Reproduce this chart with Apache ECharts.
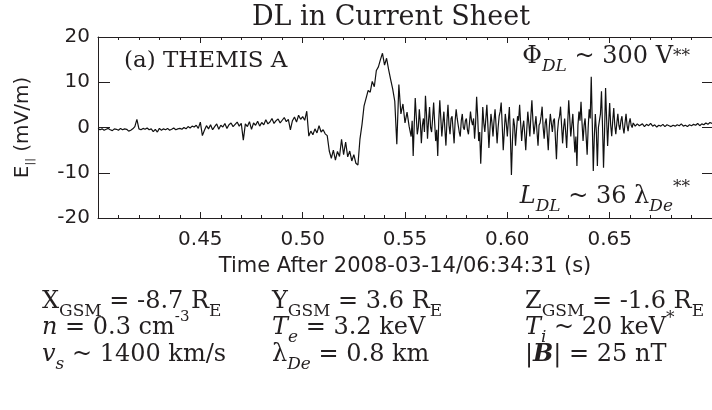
<!DOCTYPE html>
<html>
<head>
<meta charset="utf-8">
<script src="https://cdn.jsdelivr.net/npm/echarts@6/dist/echarts.min.js"></script>
<style>
  html, body { margin: 0; padding: 0; background: #ffffff; }
  #chart { width: 712px; height: 410px; }
</style>
</head>
<body>
<div id="chart"></div>
<script>
// E-parallel waveform, THEMIS A. Each block has its own start time and sample step.

// 0.400 - 0.502 s, 1 ms step : quiet current sheet
const quietBefore = [
  -0.2, -0.5, -0.3, -0.6, -0.4, -0.2, -0.5, -0.7, -0.3, -0.4,
  -0.6, -0.2, -0.5, -0.3, -0.4, -0.8, -0.6, -0.3, 0.2, 1.8,
  -0.3, -0.5, -0.2, -0.4, -0.1, -0.5, -0.3, -0.9, -0.4, -1.0,
  -0.2, -0.6, -0.3, -0.5, -0.2, -0.6, -0.4, -0.1, -0.5, -0.3,
  -0.2, -0.4, 0.0, -0.3, 0.2, -0.1, 0.3, 0.1, 0.5, -0.2,
  1.2, -1.8, -0.6, 0.4, -0.3, 0.6, -0.5, 0.2, 0.8, -0.4,
  0.5, 0.1, 0.9, -0.2, 0.6, 1.0, 0.2, 0.7, 1.2, 0.3,
  0.9, -2.8, 0.8, 0.2, 1.3, -0.4, 1.0, 0.5, 1.4, 0.3,
  1.1, 0.6, 1.7, 0.8, 1.2, 2.0, 0.9, 1.5, 1.9, 1.0,
  1.6, 2.2, 1.3, 1.8, -0.5, 1.5, 2.3, 1.2, 2.7, 1.8,
  2.4, 1.6, 3.6
];

// 0.503 - 0.552 s, 1 ms step : double layer (negative dip, then positive pulse)
const doubleLayer = [
  -1.9, -0.8, -1.6, -0.3, -1.2, 0.4, -1.0, -0.5, -1.4, -1.8,
  -5.2, -6.8, -5.0, -7.2, -5.3, -6.4, -2.6, -6.0, -3.2, -6.5,
  -5.2, -7.4, -6.0, -7.9, -8.3, -2.5, 0.7, 4.8, 6.5, 8.2,
  7.8, 10.2, 9.0, 12.6, 13.4, 15.0, 16.4, 13.8, 15.3, 12.8,
  10.6, 8.5, 5.8, -3.7, 9.5, 3.0, 5.2, 1.0, 3.4, 0.3
];

// 0.553 - 0.665 s, 0.5 ms step : large-amplitude fluctuations
const turbulence = [
  -2.0, 1.5, -6.3, 0.5, 6.5, 2.5, -1.5, 0.0, 4.0, 1.0, -3.5, 0.5, 2.0, -1.0, 7.0, 3.0, -2.5, 1.5, 4.5, 0.0,
  -1.0, 2.0, 5.5, 1.0, -3.0, -0.5, -6.3, 1.5, 6.0, 2.0, -2.0, 1.0, 3.5, -0.5, -4.0, 1.5, 5.0, 0.5, -1.5, 2.0,
  2.5, -0.5, -3.5, 1.5, 4.0, 2.0, 0.5, -1.0, -2.0, 1.5, 3.0, 0.0, -0.5, 1.5, 2.0, -0.5, -1.5, 1.0, 3.5, 1.5,
  0.5, 2.0, -2.5, 1.0, 6.8, 2.5, -3.0, -1.0, -8.0, -2.0, 4.5, 1.0, -1.0, 2.0, 5.0, 0.5, -4.5, -0.5, 3.0, 1.0,
  -2.0, 1.5, 4.0, 0.5, -3.5, 0.0, 2.5, 3.5, 5.5, 0.5, -5.0, -1.0, 3.0, 1.0, -2.0, 1.5, 4.5, -2.0, -10.5, -3.0,
  2.0, 0.5, -4.0, -0.5, 2.5, 1.5, 5.0, 1.0, -3.0, 0.0, 1.5, -1.5, -5.0, -0.5, 3.5, 1.0, -2.0, 2.5, 6.0, 1.5,
  -1.5, 0.5, 2.5, -1.0, -4.0, 0.5, 1.0, 2.5, 4.6, 0.0, -2.5, 1.0, 2.0, -1.5, -5.0, 0.0, 3.0, 1.0, -1.0, 1.5,
  2.0, -2.5, -7.0, -1.0, 1.5, 2.5, 4.6, 0.5, -3.5, 0.0, 2.0, -1.0, -4.5, 1.0, 6.0, 2.0, -2.0, 0.5, 3.0, -1.5,
  -5.5, -2.0, -8.5, 0.5, 3.5, 1.5, 5.7, 1.0, -3.0, 0.5, 2.0, -2.0, -6.0, 0.0, 4.0, 2.0, 11.2, 1.0, -9.6, -2.0,
  3.0, -1.0, -8.5, 0.0, 1.5, 3.0, 8.0, 0.5, -8.9, -1.0, 8.7, 2.0, -4.1, 1.0, 5.4, 0.5, -1.9, 1.5, 4.3, 0.5,
  -1.5, 1.0, 3.0, 0.5, -0.5, 1.5, 2.5, 0.0, -1.3, 1.0, 3.0, 0.5, -0.8, 1.0, 2.0, 0.5, 0.0, 1.0, 1.2, 0.3,
  0.2, 0.8, 1.0, 0.4, 0.3
];

// 0.666 - 0.700 s, 1 ms step : quiet again
const quietAfter = [
  0.8, 0.2, 0.7, 0.4, 0.9, 0.3, 0.6, 0.1, 0.5, 0.3,
  0.7, 0.2, 0.6, 0.4, 0.2, 0.5, 0.3, 0.6, 0.4, 0.8,
  0.3, 0.5, 0.2, 0.6, 0.4, 0.7, 0.5, 0.9, 0.4, 0.8,
  0.6, 1.0, 0.7, 1.1, 0.9
];

const blocks = [
  { start: 0.400, step: 0.001, values: quietBefore },
  { start: 0.503, step: 0.001, values: doubleLayer },
  { start: 0.553, step: 0.0005, values: turbulence },
  { start: 0.666, step: 0.001, values: quietAfter }
];

const xTickLabels = ['0.45', '0.50', '0.55', '0.60', '0.65'];
const yTickLabels = ['-20', '-10', '0', '10', '20'];

const points = [];
blocks.forEach(b => {
  b.values.forEach((v, i) => points.push([Number((b.start + i * b.step).toFixed(4)), v]));
});

const INK = '#231f20';
const SERIF = 'DejaVu Serif';
const SANS = 'DejaVu Sans';

function mathRich(size) {
  const sub = Math.round(size * 0.72);
  return {
    m:    { fontFamily: SERIF, fontSize: size, lineHeight: 36, verticalAlign: 'middle', color: INK },
    mi:   { fontFamily: SERIF, fontSize: size, fontStyle: 'italic', lineHeight: 36, verticalAlign: 'middle', color: INK },
    mb:   { fontFamily: SERIF, fontSize: size, fontStyle: 'italic', fontWeight: 'bold', lineHeight: 36, verticalAlign: 'middle', color: INK },
    s:    { fontFamily: SERIF, fontSize: sub, lineHeight: 15, verticalAlign: 'bottom', color: INK },
    si:   { fontFamily: SERIF, fontSize: sub, fontStyle: 'italic', lineHeight: 15, verticalAlign: 'bottom', color: INK },
    sup:  { fontFamily: SERIF, fontSize: 15, lineHeight: 17, verticalAlign: 'top', color: INK },
    ast:  { fontFamily: SERIF, fontSize: 17, lineHeight: 36, verticalAlign: 'middle', color: INK },
    ast2: { fontFamily: SERIF, fontSize: 17, lineHeight: 26, verticalAlign: 'top', color: INK }
  };
}

function rich(parts) {
  return parts.map(p => '{' + p[0] + '|' + p[1] + '}').join('');
}

function label(x, y, parts, size, align) {
  return {
    type: 'text',
    x: x,
    y: y,
    silent: true,
    style: {
      text: rich(parts),
      rich: mathRich(size),
      fontFamily: SERIF,
      fontSize: size,
      fill: INK,
      align: align || 'left',
      verticalAlign: 'middle',
      textAlign: align || 'left',
      textVerticalAlign: 'middle'
    }
  };
}

const col = [42, 272, 525];
const row = [302, 328, 355];
const ROW_SIZE = 24;
const NOTE_SIZE = 24;

const chart = echarts.init(document.getElementById('chart'), null, { renderer: 'canvas' });

chart.setOption({
  animation: false,
  backgroundColor: '#ffffff',
  grid: { left: 98, right: -1, top: 37, bottom: 192, containLabel: false },
  xAxis: [
    {
      type: 'value',
      position: 'bottom',
      min: 0.40,
      max: 0.70,
      interval: 0.05,
      axisLine: { show: true, onZero: false, lineStyle: { color: INK, width: 1 } },
      axisTick: { show: true, inside: true, length: 6, lineStyle: { color: INK } },
      minorTick: { show: true, splitNumber: 5, length: 3, lineStyle: { color: INK } },
      splitLine: { show: false },
      minorSplitLine: { show: false },
      axisLabel: {
        margin: 12,
        color: INK,
        fontFamily: SANS,
        fontSize: 20,
        showMinLabel: false,
        showMaxLabel: false,
        formatter: v => {
          const s = v.toFixed(2);
          return xTickLabels.indexOf(s) >= 0 ? s : '';
        }
      },
      name: 'Time After 2008-03-14/06:34:31 (s)',
      nameLocation: 'middle',
      nameGap: 38,
      nameTextStyle: { color: INK, fontFamily: SANS, fontSize: 21 }
    },
    {
      type: 'value',
      position: 'top',
      min: 0.40,
      max: 0.70,
      interval: 0.05,
      axisLine: { show: true, onZero: false, lineStyle: { color: INK, width: 1 } },
      axisTick: { show: true, inside: true, length: 6, lineStyle: { color: INK } },
      minorTick: { show: true, splitNumber: 5, length: 3, lineStyle: { color: INK } },
      splitLine: { show: false },
      axisLabel: { show: false }
    }
  ],
  yAxis: [
    {
      type: 'value',
      position: 'left',
      min: -20,
      max: 20,
      interval: 10,
      axisLine: { show: true, onZero: false, lineStyle: { color: INK, width: 1 } },
      axisTick: { show: true, inside: true, length: 12, lineStyle: { color: INK } },
      splitLine: { show: false },
      axisLabel: {
        margin: 8,
        color: INK,
        fontFamily: SANS,
        fontSize: 20,
        formatter: v => {
          const s = String(v);
          return yTickLabels.indexOf(s) >= 0 ? s : '';
        }
      },
      name: '{m|E}{s|||} {m|(mV/m)}',
      nameLocation: 'middle',
      nameRotate: 90,
      nameGap: 62,
      nameTextStyle: {
        color: INK,
        fontFamily: SANS,
        fontSize: 20,
        rich: {
          m: { fontFamily: SANS, fontSize: 20, lineHeight: 26, verticalAlign: 'middle', color: INK },
          s: { fontFamily: SANS, fontSize: 11, lineHeight: 11, verticalAlign: 'bottom', color: INK }
        }
      }
    },
    {
      type: 'value',
      position: 'right',
      min: -20,
      max: 20,
      interval: 10,
      axisLine: { show: true, onZero: false, lineStyle: { color: INK, width: 1 } },
      axisTick: { show: true, inside: true, length: 10, lineStyle: { color: INK } },
      splitLine: { show: false },
      axisLabel: { show: false }
    }
  ],
  series: [
    {
      type: 'line',
      xAxisIndex: 0,
      yAxisIndex: 0,
      data: points,
      showSymbol: false,
      symbol: 'none',
      clip: true,
      lineStyle: { color: '#111111', width: 1.2 },
      emphasis: { disabled: true }
    }
  ],
  graphic: [
    {
      type: 'text',
      x: 391,
      y: 18,
      silent: true,
      style: {
        text: 'DL in Current Sheet',
        fontFamily: SERIF,
        fontSize: 27,
        fill: INK,
        align: 'center',
        verticalAlign: 'middle',
        textAlign: 'center',
        textVerticalAlign: 'middle'
      }
    },
    label(124, 61, [['m', '(a) THEMIS A']], 23),
    label(690, 57, [['m', 'Φ'], ['si', 'DL'], ['m', ' ~ 300 V'], ['ast', '**']], NOTE_SIZE, 'right'),
    label(690, 197, [['mi', 'L'], ['si', 'DL'], ['m', ' ~ 36 λ'], ['si', 'De'], ['ast2', '**']], NOTE_SIZE, 'right'),

    label(col[0], row[0], [['m', 'X'], ['s', 'GSM'], ['m', ' = -8.7 R'], ['s', 'E']], ROW_SIZE),
    label(col[1], row[0], [['m', 'Y'], ['s', 'GSM'], ['m', ' = 3.6 R'], ['s', 'E']], ROW_SIZE),
    label(col[2], row[0], [['m', 'Z'], ['s', 'GSM'], ['m', ' = -1.6 R'], ['s', 'E']], ROW_SIZE),

    label(col[0], row[1], [['mi', 'n'], ['m', ' = 0.3 cm'], ['sup', '-3']], ROW_SIZE),
    label(col[1], row[1], [['mi', 'T'], ['si', 'e'], ['m', ' = 3.2 keV']], ROW_SIZE),
    label(col[2], row[1], [['mi', 'T'], ['si', 'i'], ['m', ' ~ 20 keV'], ['ast2', '*']], ROW_SIZE),

    label(col[0], row[2], [['mi', 'v'], ['si', 's'], ['m', ' ~ 1400 km/s']], ROW_SIZE),
    label(col[1], row[2], [['m', 'λ'], ['si', 'De'], ['m', ' = 0.8 km']], ROW_SIZE),
    label(col[2], row[2], [['m', '|'], ['mb', 'B'], ['m', '| = 25 nT']], ROW_SIZE)
  ]
});
</script>
</body>
</html>
